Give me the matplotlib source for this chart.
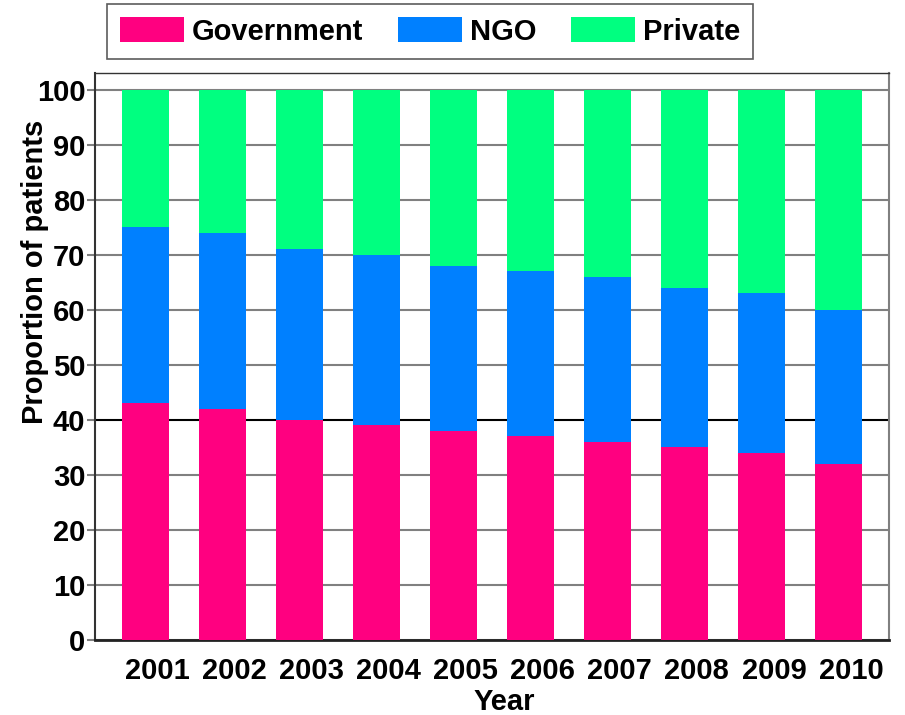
import matplotlib
matplotlib.use('Agg')
import matplotlib.pyplot as plt
import numpy as np

plt.rcParams['font.family'] = ['Liberation Sans', 'DejaVu Sans']
plt.rcParams['font.weight'] = 'bold'

years = ['2001', '2002', '2003', '2004', '2005', '2006', '2007', '2008', '2009', '2010']
government = [43, 42, 40, 39, 38, 37, 36, 35, 34, 32]
ngo = [32, 32, 31, 31, 30, 30, 30, 29, 29, 28]
private = [25, 26, 29, 30, 32, 33, 34, 36, 37, 40]
series_names = ['Government', 'NGO', 'Private']
colors = ['#FF0080', '#0080FF', '#00FF80']
fs = 21

fig = plt.figure(figsize=(9.05, 7.15), dpi=100)
ax = fig.add_axes([0.105, 0.105, 0.877, 0.793])

x = np.arange(len(years))
bottom = np.zeros(len(years))
handles = []
for vals, name, c in zip([government, ngo, private], series_names, colors):
    b = ax.bar(x, vals, width=0.61, bottom=bottom, color=c, label=name, zorder=3)
    handles.append(b)
    bottom += np.array(vals)

ax.set_xlim(-0.65, 9.65)
ax.set_ylim(0, 103.1)
ax.set_yticks(range(0, 101, 10))
# year labels sit a little right of the bar centres
ax.set_xticks(x + 0.16)
ax.set_xticklabels(years, fontsize=fs, fontweight='bold')
ax.tick_params(axis='x', length=0, pad=12)
ax.tick_params(axis='y', labelsize=fs, length=6, width=1.5, color='#808080', pad=1)
for lab in ax.get_yticklabels():
    lab.set_fontweight('bold')

ax.yaxis.grid(True, color='#808080', linewidth=1.5, zorder=0)
ax.get_ygridlines()[4].set_color('black')
ax.set_axisbelow(True)

ax.spines['left'].set_color('#333333')
ax.spines['left'].set_linewidth(1.5)
ax.spines['bottom'].set_color('#222222')
ax.spines['bottom'].set_linewidth(2)
ax.spines['right'].set_color('#808080')
ax.spines['right'].set_linewidth(1.5)
ax.spines['top'].set_color('#333333')
ax.spines['top'].set_linewidth(1)

ax.set_ylabel('Proportion of patients', fontsize=fs, fontweight='bold')
ax.yaxis.set_label_coords(-0.058, 0.65)
ax.set_xlabel('Year', fontsize=fs, fontweight='bold')
ax.xaxis.set_label_coords(0.516, -0.084)

leg = fig.legend(handles=handles, labels=series_names, loc='center',
                 bbox_to_anchor=(430 / 905, 1 - 31.5 / 715), ncol=3, fontsize=fs,
                 frameon=True, fancybox=False, edgecolor='#333333',
                 handlelength=2.2, handleheight=0.95, columnspacing=1.2,
                 handletextpad=0.25, borderpad=0.45, borderaxespad=0)
leg.get_frame().set_linewidth(1.2)
for t in leg.get_texts():
    t.set_fontweight('bold')

fig.savefig('out.png', dpi=100)
